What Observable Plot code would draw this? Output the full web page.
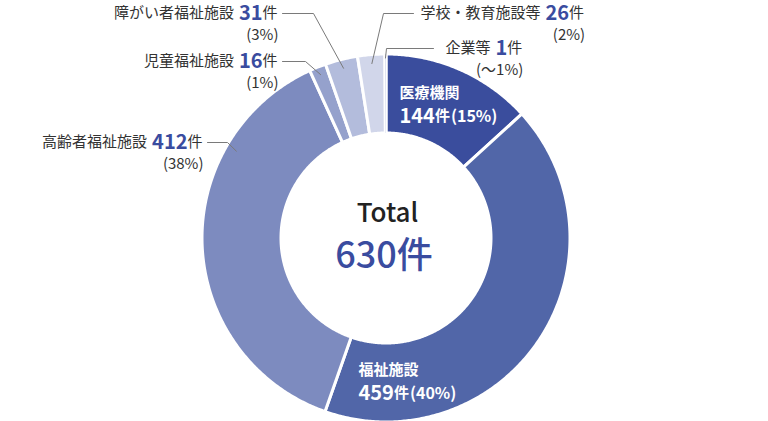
<!DOCTYPE html>
<html><head><meta charset="utf-8">
<script src="https://cdn.jsdelivr.net/npm/d3@7"></script>
<script src="https://cdn.jsdelivr.net/npm/@observablehq/plot@0.6"></script>
<style>body{margin:0;background:#fff;}</style>
</head><body><div id="chart"></div>
<script>
// ---- data ----
const categories = ["医療機関","福祉施設","高齢者福祉施設","児童福祉施設","障がい者福祉施設","学校・教育施設等","企業等"];
const counts = [144,459,412,16,31,26,1];
const percentLabels = ["15%","40%","38%","1%","3%","2%","〜1%"];
const unitLabel = "件";
const totalLabel = "Total";
const totalCount = 630;
const colors = ["#3a4d9d","#5166a8","#7d8bbf","#95a1cc","#b3bcdc","#d1d6ea","#dfe3f1"];

// ---- layout ----
const W = 768, H = 421, cx = 385.5, cy = 237.5, R = 184, r0 = 105;
const FONT = '"Noto Sans CJK JP", "Noto Sans", sans-serif';
const BLUE = "#3a4c9f", DARK = "#333333", LINE = "#7a7a7a";
const outsideLayout = {
  "高齢者福祉施設": {side:"left", tx:202, ty:142, lx:207, elbow:227, frac:0.74, rr:173},
  "児童福祉施設": {side:"left", tx:277, ty:61, lx:282, elbow:305, frac:0.5, rr:176},
  "障がい者福祉施設": {side:"left", tx:277, ty:13, lx:282, elbow:313, frac:0.5, rr:175},
  "学校・教育施設等": {side:"right", tx:420, ty:13, lx:413, elbow:383, frac:0.5, rr:175},
  "企業等": {side:"right", tx:445, ty:48, lx:433, elbow:386, frac:0.5, rr:180}
};
const insideLayout = {
  "医療機関": {x:399, y1:93, y2:116},
  "福祉施設": {x:358, y1:370, y2:393}
};

const ctx = document.createElement("canvas").getContext("2d");
function tw(t, size, weight = 400) { ctx.font = `${weight} ${size}px ${FONT}`; return ctx.measureText(t).width; }

const rows = categories.map((name, i) => ({name, count: counts[i], pct: percentLabels[i]}));
const arcs = d3.pie().sort(null).value(d => d.count)(rows);
const pt = (a, rad) => [cx + rad * Math.sin(a), cy - rad * Math.cos(a)];

// slice polygons
const slicePts = [];
for (const s of arcs) {
  const n = Math.max(2, Math.ceil((s.endAngle - s.startAngle) / (Math.PI / 360)));
  for (let k = 0; k <= n; k++) { const [x, y] = pt(s.startAngle + (s.endAngle - s.startAngle) * k / n, R); slicePts.push({name: s.data.name, count: s.data.count, x, y}); }
  for (let k = n; k >= 0; k--) { const [x, y] = pt(s.startAngle + (s.endAngle - s.startAngle) * k / n, r0); slicePts.push({name: s.data.name, count: s.data.count, x, y}); }
}

// texts & leaders
const texts = [];
const leaders = [];
for (const s of arcs) {
  const d = s.data;
  const o = outsideLayout[d.name];
  if (o) {
    const a = s.startAngle + (s.endAngle - s.startAngle) * o.frac;
    const [ax, ay] = pt(a, o.rr);
    leaders.push({id: d.name, x: o.lx, y: o.ty}, {id: d.name, x: o.elbow, y: o.ty}, {id: d.name, x: ax, y: ay});
    const num = String(d.count);
    const wName = tw(d.name, 15), wNum = tw(num, 20, 700), wU = tw(unitLabel, 15);
    let start = o.side === "left" ? o.tx - wU - wNum - 5 - wName : o.tx;
    texts.push({x: start, y: o.ty, text: d.name, size: 15, group: "dark"});
    texts.push({x: start + wName + 5, y: o.ty, text: num, size: 20, group: "blue"});
    texts.push({x: start + wName + 5 + wNum, y: o.ty, text: unitLabel, size: 15, group: "dark"});
    const end = start + wName + 5 + wNum + wU;
    texts.push({x: end + 1, y: o.ty + 22, text: `(${d.pct})`, size: 15, group: "darkEnd"});
  }
  const ins = insideLayout[d.name];
  if (ins) {
    const num = String(d.count);
    texts.push({x: ins.x, y: ins.y1, text: d.name, size: 15, group: "white"});
    const wNum = tw(num, 20, 700), wU = tw(unitLabel, 15, 700);
    texts.push({x: ins.x, y: ins.y2, text: num, size: 20, group: "white"});
    texts.push({x: ins.x + wNum, y: ins.y2, text: unitLabel, size: 15, group: "white"});
    texts.push({x: ins.x + wNum + wU + 1, y: ins.y2, text: `(${d.pct})`, size: 16, group: "white"});
  }
}
texts.push({x: cx + 1.5, y: 213, text: totalLabel, size: 26, group: "center"});
texts.push({x: cx - 2, y: 256, text: totalCount + unitLabel, size: 36, group: "centerBlue"});

const T = (group, opts) => Plot.text(texts.filter(t => t.group === group), {x: "x", y: "y", text: "text", fontSize: "size", fontFamily: FONT, ...opts});

const chart = Plot.plot({
  width: W, height: H, margin: 0,
  x: {domain: [0, W], range: [0, W], axis: null},
  y: {domain: [0, H], range: [0, H], axis: null},
  color: {domain: categories, range: colors},
  style: {fontFamily: FONT, background: "white"},
  marks: [
    Plot.line(slicePts, {x: "x", y: "y", z: "name", fill: "name", stroke: "white", strokeWidth: 3, curve: "linear-closed"}),
    Plot.line(slicePts.filter(p => p.count < 3), {x: "x", y: "y", z: "name", fill: "name", curve: "linear-closed"}),
    Plot.line(leaders, {x: "x", y: "y", z: "id", stroke: LINE, strokeWidth: 1}),
    T("dark", {textAnchor: "start", fill: DARK}),
    T("darkEnd", {textAnchor: "end", fill: DARK}),
    T("blue", {textAnchor: "start", fill: BLUE, fontWeight: 700}),
    T("white", {textAnchor: "start", fill: "white", fontWeight: 700}),
    T("center", {textAnchor: "middle", fill: "#222", fontWeight: 500}),
    T("centerBlue", {textAnchor: "middle", fill: BLUE, fontWeight: 500})
  ]
});
document.getElementById("chart").appendChild(chart);
</script>
</body></html>
